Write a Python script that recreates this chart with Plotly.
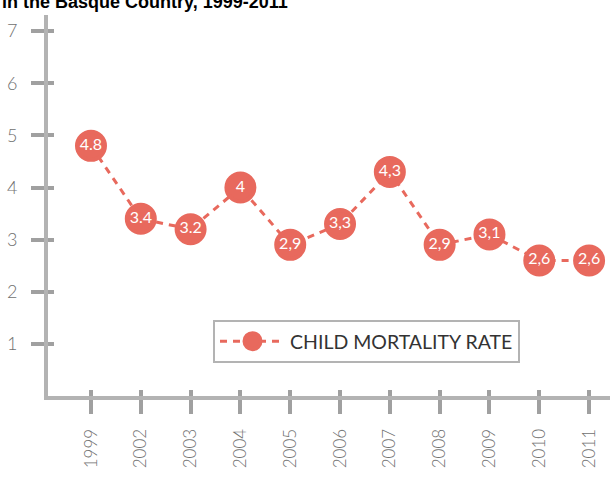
import plotly.graph_objects as go

years = ["1999", "2002", "2003", "2004", "2005", "2006", "2007", "2008", "2009", "2010", "2011"]
rate = [4.8, 3.4, 3.2, 4.0, 2.9, 3.3, 4.3, 2.9, 3.1, 2.6, 2.6]
labels = ["4.8", "3.4", "3.2", "4", "2,9", "3,3", "4,3", "2,9", "3,1", "2,6", "2,6"]
y_ticks = [1, 2, 3, 4, 5, 6, 7]

RED = "#E8695D"
AXIS = "#B3B3B3"
TICK = "#A0A0A0"
LABEL = "#707070"

fig = go.Figure()
fig.add_trace(go.Scatter(
    x=years, y=rate, mode="lines+markers+text",
    name="CHILD MORTALITY RATE",
    text=labels, textposition="middle center",
    textfont=dict(family="Lato", size=16, color="white"),
    line=dict(color=RED, width=3, dash="7px,6px"),
    marker=dict(size=28, color=RED, line=dict(color=RED, width=4)),
))
# invisible trace on overlay axes so they render
fig.add_trace(go.Scatter(x=years, y=rate, xaxis="x2", yaxis="y2", mode="markers",
                         marker=dict(opacity=0), showlegend=False, hoverinfo="skip"))

xr = [-0.863, 10.42]
yr = [0, 7.31]
fig.update_layout(
    template="none",
    width=610, height=481,
    margin=dict(l=48, r=0, t=15, b=85, autoexpand=False),
    paper_bgcolor="white", plot_bgcolor="white",
    showlegend=True,
    legend=dict(x=0.2936, y=0.1995, xanchor="left", yanchor="top",
                bordercolor=AXIS, borderwidth=2, bgcolor="white",
                font=dict(family="Lato", size=19.5, color="#333333"),
                itemwidth=65),
    xaxis=dict(type="category", range=xr, showline=True, linecolor=AXIS, linewidth=4,
               ticks="outside", ticklen=14, tickwidth=4, tickcolor=TICK,
               tickangle=-90, tickfont=dict(family="Lato", size=17, color=LABEL, weight=300),
               ticklabelstandoff=8, showgrid=False, zeroline=False, automargin=False),
    yaxis=dict(range=yr, showline=True, linecolor=AXIS, linewidth=4,
               tickvals=y_ticks, ticks="outside", ticklen=13, tickwidth=4, tickcolor=TICK,
               tickfont=dict(family="Lato", size=18, color=LABEL, weight=300),
               ticklabelstandoff=10, showgrid=False, zeroline=False, automargin=False),
    xaxis2=dict(type="category", range=xr, overlaying="x", anchor="y2", side="bottom",
                ticks="inside", ticklen=6, tickwidth=4, tickcolor=TICK,
                showticklabels=False, showgrid=False, zeroline=False, showline=False,
                automargin=False),
    yaxis2=dict(range=yr, overlaying="y", anchor="x2", side="left", tickvals=y_ticks,
                ticks="inside", ticklen=6, tickwidth=4, tickcolor=TICK,
                showticklabels=False, showgrid=False, zeroline=False, showline=False,
                automargin=False),
    annotations=[dict(text="<b>in the Basque Country, 1999-2011</b>",
                      xref="paper", yref="paper", x=-48/562, y=1.002,
                      xanchor="left", yanchor="bottom", showarrow=False,
                      font=dict(family="Liberation Sans", size=18, color="black"))],
)
fig.write_html("out.html", post_script="document.body.style.margin='0';",
               config={"displayModeBar": False})
